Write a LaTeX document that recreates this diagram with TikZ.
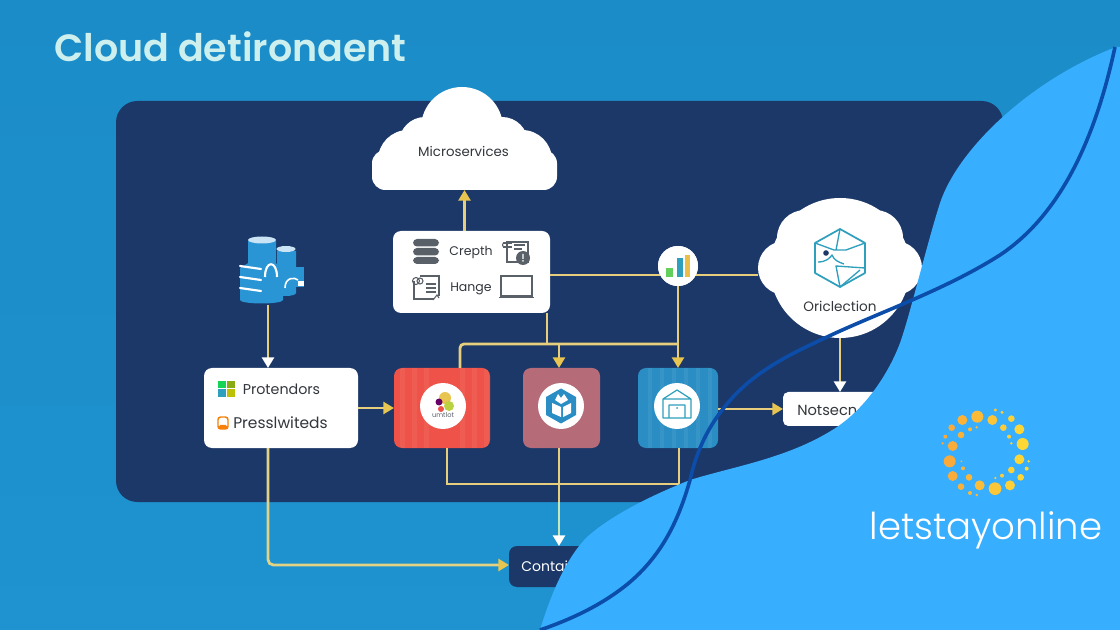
\documentclass[tikz,border=0pt]{standalone}
\usepackage{fontspec}
\setmainfont{Poppins}
\newfontfamily\titlefont{Poppins}[UprightFont=* SemiBold]
\newfontfamily\logofont{Poppins}[UprightFont=* Light]
\usetikzlibrary{arrows.meta}
\definecolor{bgblue}{HTML}{1E93CF}
\definecolor{bgtop}{HTML}{1B8CC8}
\definecolor{panel}{HTML}{1B3868}
\definecolor{wave}{HTML}{38AEFF}
\definecolor{waveline}{HTML}{0B4DA8}
\definecolor{wire}{HTML}{E6CE7C}
\definecolor{wirehead}{HTML}{E8C550}
\definecolor{palewire}{HTML}{C4E8B8}
\definecolor{ink}{HTML}{33373D}
\definecolor{grayicon}{HTML}{5A6068}
\definecolor{teal}{HTML}{2F9FBE}
\definecolor{redbox}{HTML}{EE5248}
\definecolor{mauvebox}{HTML}{B56C78}
\definecolor{bluebox}{HTML}{2A8EC4}
\definecolor{dbblue}{HTML}{2A95D5}
\definecolor{logoa}{HTML}{F9A63A}
\definecolor{logob}{HTML}{FDDC35}
\definecolor{titlecol}{HTML}{CDF0EE}
\tikzset{
  x=0.75pt,y=-0.75pt,
  sz/.style 2 args={minimum width=#1*0.75pt,minimum height=#2*0.75pt,inner sep=0pt,outer sep=0pt},
  card/.style={fill=white,rounded corners=6pt},
  tile/.style={rounded corners=6pt},
  disc/.style={circle,fill=white,inner sep=0pt,outer sep=0pt,minimum size=46*0.75pt},
  label/.style={text=ink,font=\fontsize{10.2pt}{12pt}\selectfont,inner sep=0pt},
  wireline/.style={draw=wire,line width=2.1pt},
  flow/.style={wireline,-{Triangle[length=8pt,width=9pt,color=wirehead]}},
  flowwhite/.style={wireline,-{Triangle[length=8pt,width=9pt,color=white]}},
  flowpale/.style={draw=palewire,line width=2.1pt,-{Triangle[length=8pt,width=9pt,color=white]}},
  icon/.style={draw=grayicon,line width=0.8pt,fill=none},
  hexi/.style={draw=teal,line width=1.3pt,line join=round},
}
\begin{document}
\begin{tikzpicture}
\useasboundingbox (0,0) rectangle (1120,630);
\clip (0,0) rectangle (1120,630);
\shade[top color=bgtop,bottom color=bgblue] (0,0) rectangle (1120,630);
\node[anchor=west,text=titlecol,font=\titlefont\fontsize{28.5pt}{30pt}\selectfont,inner sep=0pt] (title) at (54,47) {Cloud detironaent};
\fill[panel,rounded corners=16pt] (116,101) rectangle (1003,502);

% anchors of the wiring
\coordinate (busL) at (460,344);
\coordinate (busD) at (547,344);
\coordinate (busM) at (559,344);
\coordinate (busR) at (678,344);
\coordinate (lowL) at (447,484);
\coordinate (lowM) at (559,484);
\coordinate (lowR) at (679,484);
\coordinate (elbow) at (268,565);
\coordinate (wireA) at (550,275);
\coordinate (wireB) at (758,275);
\coordinate (panelEdge) at (559,502);

% nodes without the icons
\node[sz={185}{103}] (micro) at (464.5,138.5) {};
\node[sz={157}{82},card] (crepth) at (471.5,272) {};
\node[sz={40}{67}] (dbase) at (268,271.5) {};
\node[sz={154}{80},card] (prot) at (281,408) {};
\node[sz={96}{80},tile,fill=redbox] (red) at (442,408) {};
\node[sz={77}{80},tile,fill=mauvebox] (mauve) at (561.5,408) {};
\node[sz={80}{80},tile,fill=bluebox] (blue) at (678,408) {};
\node[sz={130}{34},fill=white,rounded corners=4pt] (note) at (848,409) {};
\node[sz={110}{41},fill=panel,rounded corners=6pt] (cont) at (564,566.5) {};
\node[sz={164}{140}] (orcl) at (840,268) {};
\node[circle,fill=white,minimum size=40*0.75pt,inner sep=0pt,outer sep=0pt] (chart) at (678,266) {};

% connectors
\draw[flow] (crepth.north -| micro.south) -- (micro.south);
\draw[flowwhite] (dbase.south) -- (prot.north -| dbase.south);
\draw[flow] (prot.east) -- (red.west);
\draw[wireline] (wireA) -- (wireB);
\draw[wireline] (crepth.south -| busD) -- (busD);
\draw[wireline,rounded corners=3pt] (red.north -| busL) -- (busL) -- (busR);
\draw[flow] (busM) -- (mauve.north -| busM);
\draw[flow] (chart.south) -- (blue.north -| chart.south);
\draw[flowwhite] (orcl.south) -- (note.north -| orcl.south);
\draw[flow] (blue.east |- note.west) -- (note.west);
\draw[wireline] (red.south -| lowL) -- (lowL) -- (lowR);
\draw[wireline] (mauve.south -| lowM) -- (lowM);
\draw[wireline] (blue.south -| lowR) -- (lowR);
\draw[wireline] (lowM) -- (panelEdge);
\draw[flowpale] (panelEdge) -- (cont.north -| lowM);
\draw[draw=wire!85!palewire,line width=2.1pt,rounded corners=4pt,-{Triangle[length=8pt,width=9pt,color=wirehead]}] (prot.south -| elbow) -- (elbow) -- (cont.west |- elbow);

% redraw chart over wires
\node[circle,fill=white,minimum size=40*0.75pt,inner sep=0pt,outer sep=0pt] (chartTop) at (chart) {};

% microservices cloud
\fill[white] (462,128) circle (41) (408,160) circle (30) (522,160) circle (30) (425,143) circle (26) (502,143) circle (26);
\fill[white,rounded corners=10pt] (372,150) rectangle (557,190);
\node[label,font=\fontsize{10pt}{12pt}\selectfont] (microtxt) at (463.5,151) {Microservices};

% oriclection cloud
\fill[white] (840,268) circle (70) (840,240) circle (42) (785,268) circle (27) (895,268) circle (27) (805,238) circle (28) (875,238) circle (28) (810,290) circle (28) (870,290) circle (28);
\draw[hexi] (840,229) -- (865,243) -- (865,273) -- (840,287) -- (815,273) -- (815,243) -- cycle;
\draw[hexi,line width=1pt] (815,243) -- (834,250) -- (846,250) -- (865,243) (840,229) -- (836,250) (840,287) -- (836,266) -- (865,268) (840,287) -- (860,270) (818,262) .. controls (826,262) and (830,258) .. (832,255) .. controls (834,260) and (838,262) .. (844,264);
\fill[panel] (826,253) circle (2.8);
\node[label] (orcltxt) at (840,306.5) {Oriclection};

% chart bars
\fill[teal!70!green!70!yellow] (666,268) rectangle (673,277);
\fill[teal] (677,258) rectangle (683,277);
\fill[wirehead!90!orange] (685,255) rectangle (690,277);

% crepth card
\node[label,font=\fontsize{9.4pt}{12pt}\selectfont] (crepthtxt) at (471,252) {Crepth};
\node[label,font=\fontsize{9.4pt}{12pt}\selectfont] (hangetxt) at (471,288.5) {Hange};
\fill[grayicon,rounded corners=3pt] (413,239) rectangle (439,246.5) (413,248) rectangle (439,255.5) (413,257) rectangle (439,264);
\draw[icon] (507,242) rectangle (528,262);
\draw[icon] (503,243) -- (512,243) (503,247) -- (512,247) (514,245) -- (525,245) (514,249) -- (522,249);
\draw[icon] (505,245) circle (2.5);
\fill[grayicon] (523,258) circle (7);
\fill[white] (522.3,254) rectangle (523.7,259) (522.3,260.2) rectangle (523.7,261.6);
\draw[icon] (414,281) -- (414,299) -- (434,299) (439,296) -- (439,276) -- (420,276);
\draw[icon] (416,281) circle (3.5) (420,281) circle (3);
\draw[icon] (426,284) -- (436,284) (426,288) -- (436,288) (426,292) -- (436,292);
\draw[icon] (433,300) -- (437,295) -- (439,298);
\draw[icon,line width=1pt] (501,276) rectangle (532,296);
\draw[icon,line width=1pt] (499,297.5) -- (534,297.5);

% database icon
\fill[dbblue] (248,241) rectangle (276,275) (277,251) rectangle (296,293);
\fill[white!75!dbblue] (262,240) ellipse (14 and 3.5);
\fill[white!75!dbblue] (286,249) ellipse (9.5 and 3);
\fill[dbblue] (296,267) rectangle (304,287);
\fill[dbblue] (240,268) rectangle (283,300) (240,268) -- (250,262) -- (274,262) -- (283,268) -- cycle;
\fill[dbblue] (261.5,300) ellipse (21.5 and 3.5);
\fill[dbblue] (286,293) ellipse (10 and 3);
\draw[white,line width=1.6pt,line cap=round] (240,266) -- (261,269) (240,277) -- (261,280) (240,288) -- (261,291);
\draw[white,line width=1.6pt] (265,277) .. controls (265,260) and (277,260) .. (277,277);
\draw[white,line width=1.2pt] (285,288) .. controls (285,277) and (295,277) .. (298,280);
\fill[white] (298,281) rectangle (304,286);

% protendors card
\fill[green!55!teal] (218,381) rectangle (226,388);
\fill[olive!60!green!80!yellow] (227,381) rectangle (235,388);
\fill[teal] (218,389) rectangle (226,397);
\fill[yellow!55!olive!90!green] (227,389) rectangle (235,397);
\node[label,anchor=west,font=\fontsize{10.7pt}{12pt}\selectfont] (protxt) at (242.5,389.5) {Protendors};
\draw[draw=orange!85!brown,line width=1.1pt,rounded corners=2pt,fill=white] (218,417) rectangle (228,429);
\fill[orange!85!brown,rounded corners=1pt] (219,425) rectangle (227,429);
\node[label,anchor=west,font=\fontsize{11.6pt}{12pt}\selectfont] (presstxt) at (233,423) {Presslwiteds};

% red tile
\begin{scope}
\clip[rounded corners=6pt] (394,368) rectangle (490,448);
\foreach \s in {400,412,424,460,472,484}{\fill[white,opacity=.06] (\s,368) rectangle (\s+5,448);}
\end{scope}
\node[disc] (reddisc) at (443,406) {};
\fill[wirehead] (445,398) circle (6);
\fill[violet!80!black] (439,402) circle (3.5);
\fill[redbox] (441,409) circle (3);
\fill[wirehead!80!green] (449,406) circle (5);
\node[text=grayicon,font=\fontsize{5pt}{6pt}\selectfont,inner sep=0pt] (redtxt) at (443,415) {umtlot};

% mauve tile
\node[disc] (mauvedisc) at (561,406) {};
\fill[bluebox] (561,388.5) -- (576,397) -- (576,415) -- (561,423.5) -- (546,415) -- (546,397) -- cycle;
\fill[white] (552,403) -- (561,407) -- (561,417) -- (552,413) -- cycle;
\fill[white] (563,407) -- (571,403) -- (571,413) -- (563,417) -- cycle;
\fill[white] (555,400) -- (558,394) -- (561,398) -- (564,394) -- (568,400) -- (561,404) -- cycle;

% blue tile
\begin{scope}
\clip[rounded corners=6pt] (638,368) rectangle (718,448);
\foreach \s in {648,660,672,684,696,708}{\fill[white,opacity=.06] (\s,368) rectangle (\s+4,448);}
\end{scope}
\node[disc] (bluedisc) at (677,406) {};
\draw[draw=teal,line width=0.9pt,line join=round] (663,418) -- (663,399) -- (677,390) -- (691,399) -- (691,418) -- cycle (663,399) -- (691,399) (669,418) -- (669,405) -- (685,405) -- (685,418);
\fill[teal] (677,408) circle (1);

% note + container text
\node[label,anchor=west,font=\fontsize{11pt}{12pt}\selectfont] (notetxt) at (797,410) {Notsecn};
\node[label,text=white,anchor=west,font=\fontsize{10.5pt}{12pt}\selectfont] (conttxt) at (521,566) {Contai};

% wave shape
\fill[wave] (540,630) .. controls (552,590) and (568,556) .. (587,537)
  .. controls (615,512) and (660,492) .. (690,480)
  .. controls (735,466) and (790,458) .. (837,427)
  .. controls (865,408) and (888,375) .. (900,343)
  .. controls (910,315) and (926,247) .. (940,203)
  .. controls (958,149) and (1030,80) .. (1116,47)
  -- (1120,47) -- (1120,630) -- cycle;
\draw[waveline,line width=2.7pt] (540,630) .. controls (575,618) and (605,603) .. (630,582)
  .. controls (665,552) and (680,515) .. (690,480)
  .. controls (698,445) and (712,420) .. (733,397)
  .. controls (760,368) and (795,352) .. (827,337)
  .. controls (880,312) and (945,290) .. (1000,255)
  .. controls (1060,215) and (1095,140) .. (1115,47);

% logo
\foreach \a/\b/\r in {232/80/18,187/90/15,277/90/15,334/86/10,358/118/15,368/162/18,358/208/15,362/262/10,330/286/15,285/296/19,239/286/15,183/290/10,158/258/15,149/214/18,158/168/15,155/113/10,286/60/5,306/67/5,310/113/10,327/140/6,334/160/4,386/214/4,380/236/6,334/240/10,306/257/6,286/264/4,210/309/6,230/315/4,207/262/10,189/235/6,184/214/3,136/140/6,128/160/4,183/135/10,210/118/6,230/112/4}{
  \pgfmathtruncatemacro{\mixv}{(\a-128)/2.6}
  \fill[logob!\mixv!logoa] (900+\a/3,390+\b/3) circle (\r/3);
}
\node[text=white,font=\logofont\fontsize{27.8pt}{30pt}\selectfont,inner sep=0pt] (brand) at (986,530) {letstayonline};
\end{tikzpicture}
\end{document}
